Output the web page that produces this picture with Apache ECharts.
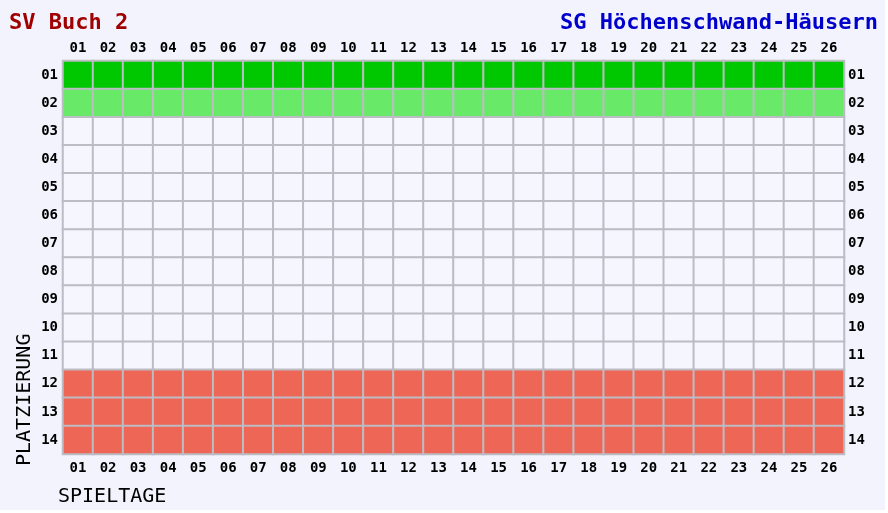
<!DOCTYPE html>
<html>
<head>
<meta charset="utf-8">
<script src="https://cdn.jsdelivr.net/npm/echarts@6/dist/echarts.min.js"></script>
<style>
  html, body { margin: 0; padding: 0; background: #ffffff; }
  #chart { width: 885px; height: 510px; }
</style>
</head>
<body>
<div id="chart"></div>
<script>
/* Tabellenverlauf — Platzierung je Spieltag */
const days = ['01', '02', '03', '04', '05', '06', '07', '08', '09', '10', '11', '12', '13',
  '14', '15', '16', '17', '18', '19', '20', '21', '22', '23', '24', '25', '26'];
const places = ['01', '02', '03', '04', '05', '06', '07', '08', '09', '10', '11', '12', '13', '14'];
// 1 = Aufstieg, 2 = Relegation oben, 0 = Mittelfeld, 3 = Abstieg
const placeZone = [1, 2, 0, 0, 0, 0, 0, 0, 0, 0, 0, 3, 3, 3];
const homeTeam = 'SV Buch 2';
const awayTeam = 'SG Höchenschwand-Häusern';

(function () {
  const chart = echarts.init(document.getElementById('chart'));
  const mono = 'DejaVu Sans Mono';

  const cells = [];
  places.forEach((p, yi) => {
    days.forEach((d, xi) => cells.push([xi, yi, placeZone[yi]]));
  });

  const tickLabel = { color: '#000', fontFamily: mono, fontWeight: 'bold', fontSize: 14 };
  const catAxis = (data, extra) => Object.assign({
    type: 'category',
    data: data,
    axisLine: { show: false },
    axisTick: { show: false },
    splitLine: { show: false },
  }, extra);

  chart.setOption({
    backgroundColor: '#f3f3fd',
    animation: false,
    title: [
      { text: homeTeam, left: 9, top: 12, padding: 0, textStyle: { color: '#a00000', fontFamily: mono, fontWeight: 'bold', fontSize: 22 } },
      { text: awayTeam, right: 7, top: 12, padding: 0, textStyle: { color: '#0000cc', fontFamily: mono, fontWeight: 'bold', fontSize: 22 } },
    ],
    grid: { left: 63, top: 61, width: 781, height: 393 },
    xAxis: [
      catAxis(days, { position: 'bottom', axisLabel: Object.assign({ margin: 7 }, tickLabel) }),
      catAxis(days, { position: 'top', axisLabel: Object.assign({ margin: 6 }, tickLabel) }),
    ],
    yAxis: [
      catAxis(places, { position: 'left', inverse: true, axisLabel: Object.assign({ margin: 5 }, tickLabel) }),
      catAxis(places, { position: 'right', inverse: true, axisLabel: Object.assign({ margin: 4 }, tickLabel) }),
    ],
    visualMap: {
      type: 'piecewise',
      show: false,
      dimension: 2,
      pieces: [
        { value: 0, color: '#f6f6ff' },
        { value: 1, color: '#00c800' },
        { value: 2, color: '#68ea68' },
        { value: 3, color: '#ee6655' },
      ],
    },
    graphic: [
      { type: 'text', left: 58, top: 487, style: { text: 'SPIELTAGE', fill: '#000', font: '20px "DejaVu Sans Mono"' } },
      { type: 'text', x: 15, y: 466, rotation: Math.PI / 2, style: { text: 'PLATZIERUNG', fill: '#000', font: '20px "DejaVu Sans Mono"' } },
    ],
    series: [{
      type: 'heatmap',
      data: cells,
      itemStyle: { borderColor: '#bcbcc4', borderWidth: 2 },
      emphasis: { disabled: true },
      label: { show: false },
    }],
  });
})();
</script>
</body>
</html>
